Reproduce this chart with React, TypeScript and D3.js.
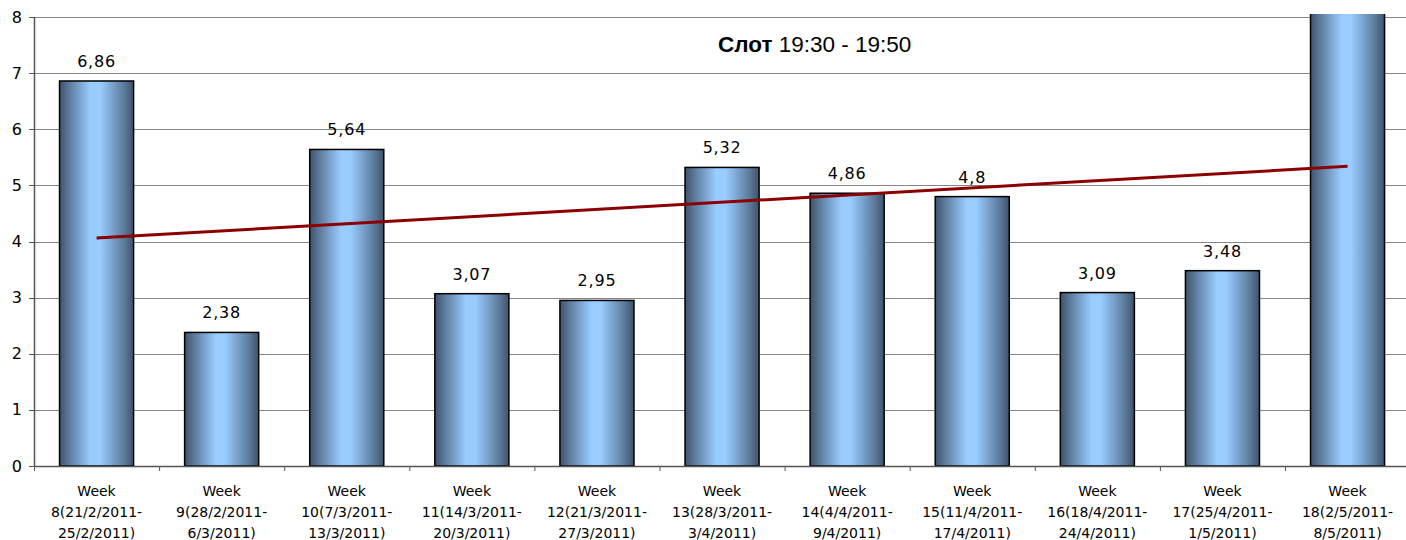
import React from "react";
import * as d3 from "d3";

const categories: string[] = [
  "Week|8(21/2/2011-|25/2/2011)",
  "Week|9(28/2/2011-|6/3/2011)",
  "Week|10(7/3/2011-|13/3/2011)",
  "Week|11(14/3/2011-|20/3/2011)",
  "Week|12(21/3/2011-|27/3/2011)",
  "Week|13(28/3/2011-|3/4/2011)",
  "Week|14(4/4/2011-|9/4/2011)",
  "Week|15(11/4/2011-|17/4/2011)",
  "Week|16(18/4/2011-|24/4/2011)",
  "Week|17(25/4/2011-|1/5/2011)",
  "Week|18(2/5/2011-|8/5/2011)",
];
const values: number[] = [6.86, 2.38, 5.64, 3.07, 2.95, 5.32, 4.86, 4.8, 3.09, 3.48, 9.25];
const yTicks: number[] = [0, 1, 2, 3, 4, 5, 6, 7, 8];
const titleBold = "Слот";
const titleRest = " 19:30 - 19:50";

const W = 1406;
const H = 540;
const left = 34;
const top = 17;
const bottom = 466;
const step = 125.1;

export default function App() {
  const x = d3
    .scaleBand<string>()
    .domain(categories)
    .range([left, left + step * categories.length])
    .paddingInner(0.408)
    .paddingOuter(0.204);
  const y = d3.scaleLinear().domain([0, 8]).range([bottom, top]);

  // linear trend (least squares)
  const n = values.length;
  const idx = values.map((_, i) => i);
  const mx = d3.mean(idx)!;
  const my = d3.mean(values)!;
  const slope =
    d3.sum(idx, (i) => (i - mx) * (values[i] - my)) / d3.sum(idx, (i) => (i - mx) ** 2);
  const intercept = my - slope * mx;
  const cx = (i: number) => x(categories[i])! + x.bandwidth() / 2;
  const trend = d3
    .line<number>()
    .x((i) => cx(i))
    .y((i) => y(intercept + slope * i));

  const font = "Tahoma, 'DejaVu Sans', Verdana, sans-serif";
  const fmt = (v: number) => String(v).replace(".", ",");
  const yMax = y.domain()[1];

  return (
    <svg
      width={W}
      height={H}
      style={{ position: "absolute", left: 0, top: 0, background: "#fff" }}
      fontFamily={font}
    >
      <defs>
        <linearGradient id="barGrad" x1="0" x2="1" y1="0" y2="0">
          <stop offset="0" stopColor="#3e536c" />
          <stop offset="0.12" stopColor="#5a7898" />
          <stop offset="0.42" stopColor="#99ccff" />
          <stop offset="0.55" stopColor="#99ccff" />
          <stop offset="0.88" stopColor="#5a7898" />
          <stop offset="1" stopColor="#3e536c" />
        </linearGradient>
        <clipPath id="plotClip">
          <rect x={left} y={14} width={W - left} height={bottom - 14 + 1} />
        </clipPath>
      </defs>
      {/* gridlines */}
      {yTicks.map((t) => (
        <line
          key={t}
          x1={left}
          x2={W}
          y1={Math.round(y(t)) + 0.5}
          y2={Math.round(y(t)) + 0.5}
          stroke="#868686"
          strokeWidth={1}
        />
      ))}
      {/* title */}
      <text x={718} y={52} fontSize={22.5} fill="#000" fontFamily="'Liberation Sans', Arial, sans-serif">
        <tspan fontWeight="bold">{titleBold}</tspan>
        <tspan>{titleRest}</tspan>
      </text>
      {/* bars */}
      <g clipPath="url(#plotClip)">
        {values.map((v, i) => (
          <rect
            key={i}
            x={x(categories[i])!}
            y={y(v)}
            width={x.bandwidth()}
            height={bottom - y(v)}
            fill="url(#barGrad)"
            stroke="#000"
            strokeWidth={1.5}
          />
        ))}
        {values.map((v, i) =>
          v <= yMax ? (
            <text
              key={"l" + i}
              x={cx(i)}
              y={y(v) - 14}
              textAnchor="middle"
              fontSize={16}
              letterSpacing={0.8}
              fill="#000"
            >
              {fmt(v)}
            </text>
          ) : null
        )}
        <path
          d={trend([0, n - 1]) || ""}
          fill="none"
          stroke="#8b0000"
          strokeWidth={3}
        />
      </g>
      {/* y axis */}
      <line x1={left + 0.5} x2={left + 0.5} y1={top} y2={bottom} stroke="#555" strokeWidth={1.5} />
      {yTicks.map((t) => (
        <g key={"yt" + t}>
          <line
            x1={left - 5}
            x2={left}
            y1={Math.round(y(t)) + 0.5}
            y2={Math.round(y(t)) + 0.5}
            stroke="#555"
          />
          <text x={22} y={y(t)} dy="0.35em" textAnchor="end" fontSize={16} fill="#000">
            {t}
          </text>
        </g>
      ))}
      {/* x axis */}
      <line x1={left} x2={W} y1={bottom + 0.5} y2={bottom + 0.5} stroke="#555" strokeWidth={1.5} />
      {categories.map((c, i) => (
        <line
          key={"xt" + i}
          x1={left + step * i + 0.5}
          x2={left + step * i + 0.5}
          y1={bottom}
          y2={bottom + 5}
          stroke="#555"
        />
      ))}
      {categories.map((c, i) => (
        <text key={"xl" + i} x={cx(i)} textAnchor="middle" fontSize={14} fill="#000">
          {c.split("|").map((line, j) => (
            <tspan key={j} x={cx(i)} y={496 + j * 21}>
              {line}
            </tspan>
          ))}
        </text>
      ))}
    </svg>
  );
}
